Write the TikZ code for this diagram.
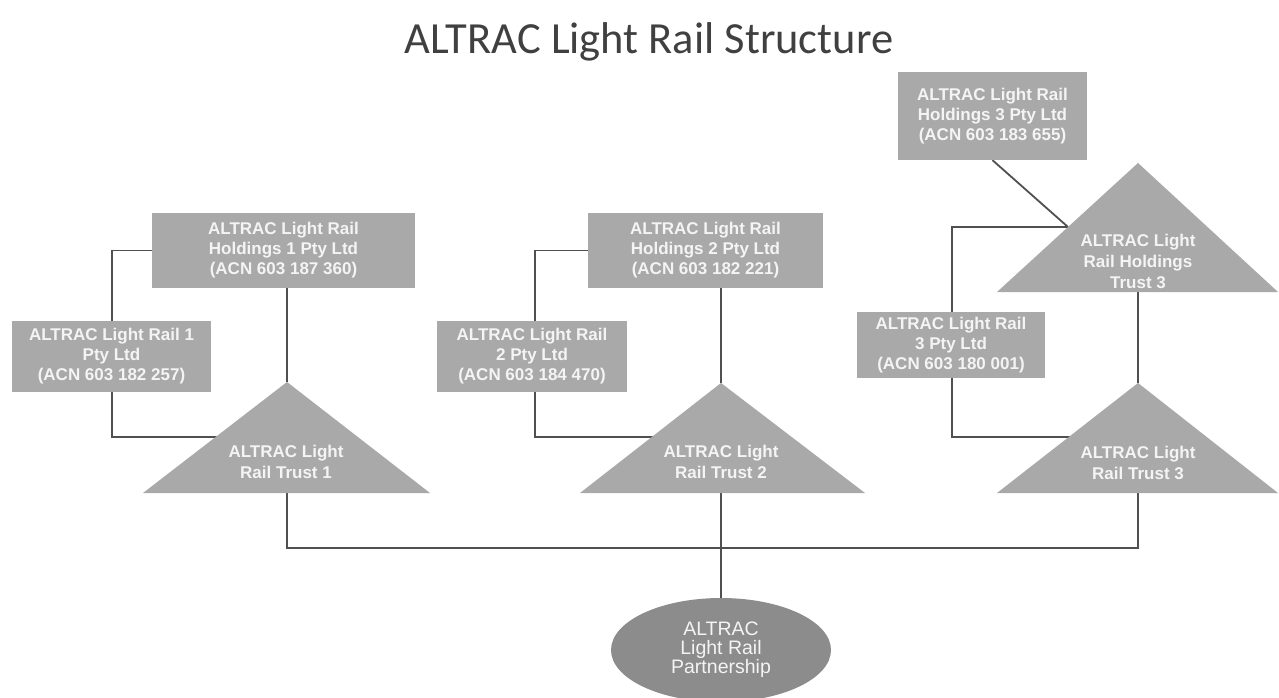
\documentclass[tikz,border=0pt]{standalone}
\usepackage{fontspec}
\setmainfont{Liberation Sans}
\newfontfamily\titlefont{Carlito}
\usetikzlibrary{backgrounds,shapes.geometric}
\definecolor{boxgray}{HTML}{A9A9A9}
\definecolor{ellgray}{HTML}{8C8C8C}
\definecolor{linegray}{HTML}{505050}
\definecolor{txtwhite}{HTML}{F4F4F4}
\definecolor{titlegray}{HTML}{404040}
\begin{document}
\begin{tikzpicture}[x=1pt,y=-1pt,
  entbox/.style={rectangle, fill=boxgray, inner sep=0pt, align=center, text=txtwhite,
    font=\bfseries\fontsize{17}{20}\selectfont},
  tritext/.style={align=center, text=txtwhite, inner sep=0pt,
    font=\bfseries\fontsize{17}{21}\selectfont},
  trifill/.style={fill=boxgray},
  conn/.style={draw=linegray, line width=1.8pt}]
\useasboundingbox (0,0) rectangle (1279,698);

% title
\node[anchor=base, text=titlegray, font=\titlefont\fontsize{44.5}{48}\selectfont, inner sep=0pt] (title) at (649,54) {ALTRAC Light Rail Structure};

% triangle corner coordinates
\coordinate (t1top) at (287,382);
\coordinate (t1base) at (287,493);
\coordinate (t2top) at (721,383);
\coordinate (t2base) at (721,493);
\coordinate (ht3top) at (1138,163);
\coordinate (ht3base) at (1138,292);
\coordinate (t3top) at (1138,383);
\coordinate (t3base) at (1138,493);
\coordinate (t1join) at (260,437);
\coordinate (t2join) at (690,437);
\coordinate (t3join) at (1110,437);
\coordinate (ht3join) at (1068,227);
\coordinate (busL) at (287,548);
\coordinate (busR) at (1138,548);

% triangles
\fill[trifill] (t1top) -- (430,493) -- (143,493) -- cycle;
\fill[trifill] (t2top) -- (865,493) -- (580,493) -- cycle;
\fill[trifill] (ht3top) -- (1278,292) -- (997,292) -- cycle;
\fill[trifill] (t3top) -- (1278,493) -- (997,493) -- cycle;

\node[tritext] (t1) at (286,462) {ALTRAC Light\\Rail Trust 1};
\node[tritext] (t2) at (721,462) {ALTRAC Light\\Rail Trust 2};
\node[tritext] (ht3) at (1138,261) {ALTRAC Light\\Rail Holdings\\Trust 3};
\node[tritext] (t3) at (1138,463) {ALTRAC Light\\Rail Trust 3};

% boxes
\node[entbox, minimum width=263pt, minimum height=75pt] (h1) at (283.5,250.5)
  {ALTRAC Light Rail\\Holdings 1 Pty Ltd\\(ACN 603 187 360)};
\node[entbox, minimum width=199pt, minimum height=71pt] (l1) at (111.5,356.5)
  {ALTRAC Light Rail 1\\Pty Ltd\\(ACN 603 182 257)};
\node[entbox, minimum width=235pt, minimum height=75pt] (h2) at (705.5,250.5)
  {ALTRAC Light Rail\\Holdings 2 Pty Ltd\\(ACN 603 182 221)};
\node[entbox, minimum width=190pt, minimum height=71pt] (l2) at (532,356.5)
  {ALTRAC Light Rail\\2 Pty Ltd\\(ACN 603 184 470)};
\node[entbox, minimum width=189pt, minimum height=88pt] (h3) at (992.5,116)
  {ALTRAC Light Rail\\Holdings 3 Pty Ltd\\(ACN 603 183 655)};
\node[entbox, minimum width=188pt, minimum height=66pt] (l3) at (951,345)
  {ALTRAC Light Rail\\3 Pty Ltd\\(ACN 603 180 001)};

% partnership
\node[ellipse, fill=ellgray, minimum width=220pt, minimum height=104pt, inner sep=0pt,
  align=center, text=txtwhite, font=\fontsize{19.5}{19}\selectfont] (part) at (721,650)
  {ALTRAC\\Light Rail\\Partnership};

% connectors
\begin{pgfonlayer}{background}
\fill[white] (0,0) rectangle (1279,698);
\draw[conn] (h1.south -| t1top) -- (t1top);
\draw[conn] (h1.west) -- (112,250.5) |- (t1join);
\draw[conn] (h2.south -| t2top) -- (t2top);
\draw[conn] (h2.west) -- (535,250.5) |- (t2join);
\draw[conn] (h3.south) -- (ht3join);
\draw[conn] (ht3join) -- (952,227) |- (t3join);
\draw[conn] (ht3base) -- (t3top);
\draw[conn] (t1base) -- (busL) -- (busR) -- (t3base);
\draw[conn] (t2base) -- (part.north);
\end{pgfonlayer}
\end{tikzpicture}
\end{document}
